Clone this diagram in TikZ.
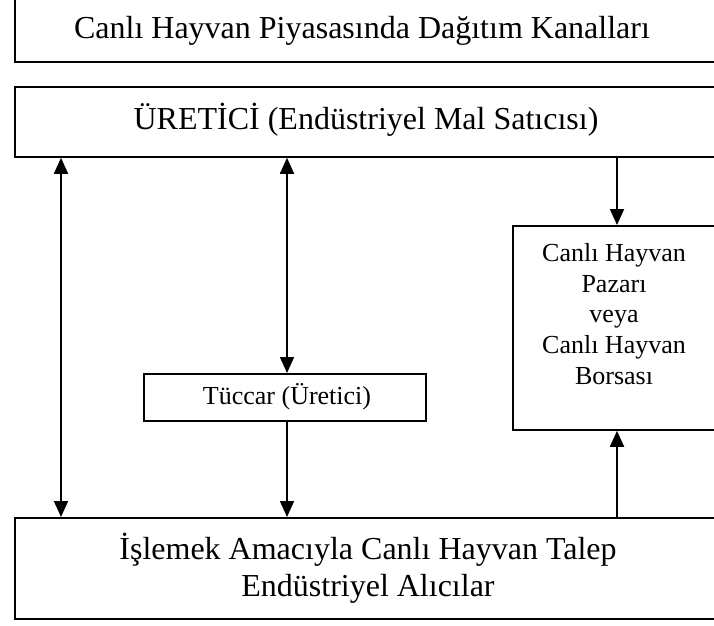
\documentclass[tikz,border=0pt]{standalone}
\usepackage{fontspec}
\setmainfont{Liberation Serif}
\usetikzlibrary{arrows.meta}
\begin{document}
\begin{tikzpicture}[x=1pt,y=-1pt,
  box/.style={draw, line width=1.8pt, inner sep=0pt, anchor=north west},
  txt/.style={inner sep=0pt, align=center},
  big/.style={font=\fontsize{32}{37}\selectfont},
  mid/.style={font=\fontsize{26}{30.75}\selectfont},
  small/.style={font=\fontsize{26}{30}\selectfont},
  conn/.style={line width=1.8pt},
  tip/.style={-{Triangle[length=16pt,width=14pt]}},
  both/.style={{Triangle[length=16pt,width=14pt]}-{Triangle[length=16pt,width=14pt]}}]
  \useasboundingbox (0,0) rectangle (714,625);
  \clip (0,0) rectangle (714,625);

  % boxes
  \node[box, minimum width=726pt, minimum height=71pt] (title) at (14,-10) {};
  \node[box, minimum width=726pt, minimum height=70pt] (prod) at (14,86) {};
  \node[box, minimum width=228pt, minimum height=204pt] (market) at (512,225) {};
  \node[box, minimum width=282pt, minimum height=47pt] (trader) at (143,373) {};
  \node[box, minimum width=726pt, minimum height=101pt] (buyers) at (14,517) {};

  % texts
  \node[txt, big] (titletxt) at (362,31) {Canlı Hayvan Piyasasında Dağıtım Kanalları};
  \node[txt, big] (prodtxt) at (366,120) {ÜRETİCİ (Endüstriyel Mal Satıcısı)};
  \node[txt, mid] (markettxt) at (614,314) {Canlı Hayvan\\Pazarı\\veya\\Canlı Hayvan\\Borsası};
  \node[txt, small] (tradertxt) at (287,397) {Tüccar (Üretici)};
  \node[txt, big] (buyerstxt) at (368,568) {İşlemek Amacıyla Canlı Hayvan Talep\\Endüstriyel Alıcılar};

  % connector columns
  \coordinate (xa) at (61,0);
  \coordinate (xb) at (287,0);
  \coordinate (xc) at (617,0);

  \draw[conn, both] (prod.south -| xa) -- (buyers.north -| xa);
  \draw[conn, both] (prod.south -| xb) -- (trader.north -| xb);
  \draw[conn, tip] (trader.south -| xb) -- (buyers.north -| xb);
  \draw[conn, tip] (prod.south -| xc) -- (market.north -| xc);
  \draw[conn, tip] (buyers.north -| xc) -- (market.south -| xc);
\end{tikzpicture}
\end{document}
